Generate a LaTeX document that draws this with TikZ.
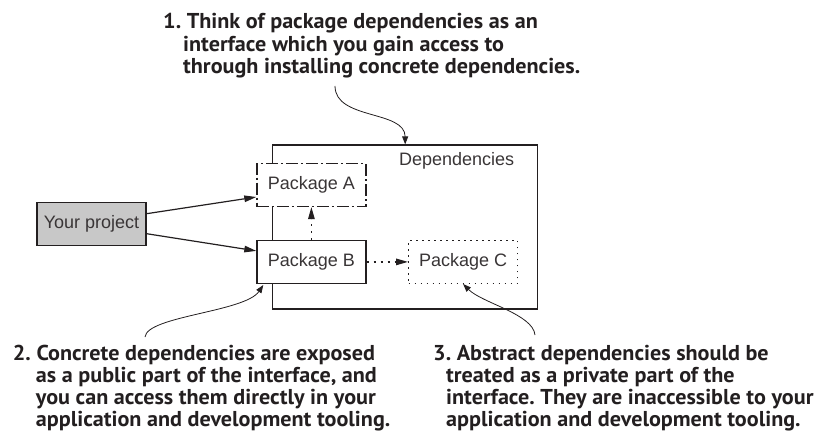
\documentclass[tikz,border=0pt]{standalone}
\usepackage{fontspec}
\setmainfont{Liberation Sans}
\newfontfamily\notefont[FakeStretch=1.03]{PT Sans}
\usetikzlibrary{arrows.meta,calc,positioning}
\definecolor{ink}{HTML}{231F20}
\definecolor{projgray}{HTML}{C8C8C8}
\frenchspacing
\tikzset{
  pkg/.style    = {draw=ink, line width=1.2pt, fill=white, minimum width=109pt,
                   minimum height=43pt, inner sep=0pt, text=ink!90,
                   font=\fontsize{18}{20}\selectfont},
  proj/.style   = {pkg, fill=projgray},
  frame/.style  = {draw=ink, line width=1.2pt, minimum width=265pt,
                   minimum height=164pt, inner sep=0pt},
  wire/.style   = {-{Triangle[length=12pt,width=6.5pt]}, line width=1.2pt, ink},
  dwire/.style  = {wire, dash pattern=on 2pt off 5pt},
  callout/.style= {-{Triangle[length=8pt,width=6pt]}, line width=0.8pt, ink},
  note/.style   = {anchor=base west, inner sep=0pt, text=ink,
                   font=\notefont\bfseries\fontsize{21.5}{22.2}\selectfont},
}

\begin{document}
\begin{tikzpicture}[x=1pt,y=-1pt]
  \useasboundingbox (0,0) rectangle (819,441);

  % the dependencies frame
  \node[frame] (deps) at (405.2,227) {};
  \node[anchor=north east, inner sep=0pt, text=ink!90,
        font=\fontsize{18}{20}\selectfont]
        (depsl) at ($(deps.north east)+(-24,8)$) {Dependencies};

  % packages
  \node[pkg, dash pattern=on 12pt off 3pt on 2pt off 3pt] (A) at (311.4,185) {Package A};
  \node[pkg, below=32.7pt of A] (B) {Package B};
  \node[pkg, dash pattern=on 1.5pt off 4.5pt, right=41.5pt of B] (C) {Package C};
  \node[proj] (yp) at (91.5,223.7) {Your project};

  \draw[wire] ($(yp.east)+(0,-10)$) -- ($(A.west)+(0,12)$);
  \draw[wire] ($(yp.east)+(0,10)$) -- ($(B.west)+(0,-11)$);
  \draw[dwire] (B.north) -- (A.south);
  \draw[dwire] (B.east) -- (C.west);

  % notes
  \node[note] (n1) at (163,29) {\begin{tabular}[t]{@{}l@{}}
    1.\ Think of package dependencies as an\\
    \hspace{20pt}interface which you gain access to\\
    \hspace{20pt}through installing concrete dependencies.
  \end{tabular}};
  \node[note] (n2) at (12.7,360) {\begin{tabular}[t]{@{}l@{}}
    2.\ Concrete dependencies are exposed\\
    \hspace{23pt}as a public part of the interface, and\\
    \hspace{23pt}you can access them directly in your\\
    \hspace{23pt}application and development tooling.
  \end{tabular}};
  \node[note] (n3) at (433,360) {\begin{tabular}[t]{@{}l@{}}
    3.\ Abstract dependencies should be\\
    \hspace{13pt}treated as a private part of the\\
    \hspace{13pt}interface. They are inaccessible to your\\
    \hspace{13pt}application and development tooling.
  \end{tabular}};

  \coordinate (t1) at (335,86);
  \coordinate (t2) at (145,337);
  \coordinate (t3) at (535,335);
  \draw[callout] (t1) .. controls (335,120) and (405,110) .. (deps.north);
  \draw[callout] (t2) .. controls (147,316) and (245,312) .. ($(B.south west)+(7,1)$);
  \draw[callout] (t3) .. controls (533,314) and (482,303) .. (C.south);
\end{tikzpicture}
\end{document}
